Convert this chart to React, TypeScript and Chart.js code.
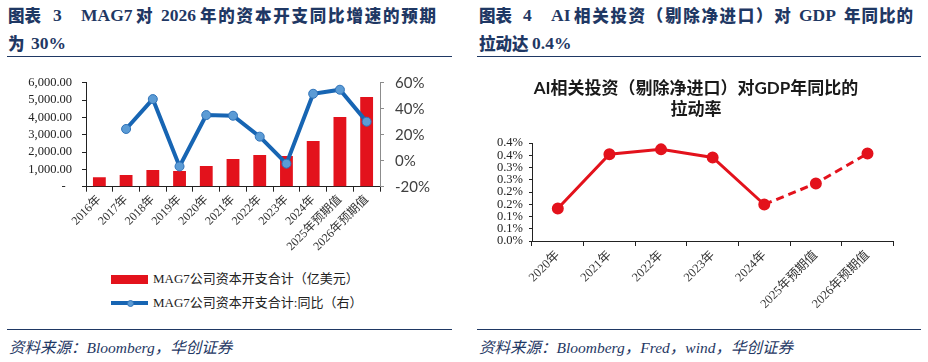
import React, { useEffect, useRef } from 'react';
import { Chart, registerables } from 'chart.js';

Chart.register(...registerables);

// ---------- Data: chart 3 (MAG7 capex) ----------
const capexYears = ['2016年', '2017年', '2018年', '2019年', '2020年', '2021年', '2022年', '2023年', '2024年', '2025年预期值', '2026年预期值'];
const capexValues = [542, 675, 963, 904, 1192, 1596, 1827, 1769, 2635, 4019, 5173];
const capexYoY = [null, 24.4, 47.4, -4.4, 35.1, 34.6, 18.5, -2.3, 51.5, 54.6, 30.0];
const capexLeftTicks = ['-  ', '1,000.00', '2,000.00', '3,000.00', '4,000.00', '5,000.00', '6,000.00'];
const capexRightTicks = ['-20%', '0%', '20%', '40%', '60%'];
const capexBarLabel = 'MAG7公司资本开支合计（亿美元）';
const capexLineLabel = 'MAG7公司资本开支合计:同比（右）';

// ---------- Data: chart 4 (AI investment contribution) ----------
const aiYears = ['2020年', '2021年', '2022年', '2023年', '2024年', '2025年预期值', '2026年预期值'];
const aiContribution = [0.133, 0.354, 0.374, 0.341, 0.149, 0.235, 0.357];
const aiTicks = ['0.0%', '0.1%', '0.1%', '0.2%', '0.2%', '0.3%', '0.3%', '0.4%', '0.4%'];
const aiTitle = ['AI相关投资（剔除净进口）对GDP年同比的', '拉动率'];

const NAVY = '#1F3864';
const RED = '#E3121C';
const BLUE = '#1765B3';
const SERIF = '"Liberation Serif", "Times New Roman", "Noto Sans CJK SC", serif';
const SANS = 'Lato, "Noto Sans CJK SC", sans-serif';

function CapexChart() {
  const ref = useRef<HTMLCanvasElement | null>(null);
  useEffect(() => {
    if (!ref.current) return;
    const chart = new Chart(ref.current, {
      data: {
        labels: capexYears,
        datasets: [
          {
            type: 'line',
            label: capexLineLabel,
            data: capexYoY as any,
            yAxisID: 'yR',
            borderColor: BLUE,
            borderWidth: 4,
            pointRadius: 4.5,
            pointBackgroundColor: '#5B9BD5',
            pointBorderColor: '#2F72B8',
            pointBorderWidth: 1,
            tension: 0,
            order: 0,
          } as any,
          {
            type: 'bar',
            label: capexBarLabel,
            data: capexValues,
            yAxisID: 'yL',
            backgroundColor: RED,
            barPercentage: 0.48,
            categoryPercentage: 1,
            order: 1,
          } as any,
        ],
      },
      options: {
        animation: false,
        responsive: false,
        maintainAspectRatio: false,
        layout: { padding: { top: 20.7, left: 0, right: 0, bottom: 0 } },
        plugins: { legend: { display: false }, tooltip: { enabled: false }, title: { display: false } },
        scales: {
          x: {
            offset: true,
            grid: { display: true, offset: true, drawOnChartArea: false, drawTicks: true, tickLength: 5, color: '#222' },
            border: { display: true, color: '#222', width: 1 },
            ticks: { autoSkip: false, minRotation: 45, maxRotation: 45, padding: 1, color: '#333', font: { family: SERIF, size: 12 } },
            afterFit: (s: any) => { s.height = 75.3; },
          },
          yL: {
            position: 'left',
            min: 0,
            max: 6000,
            grid: { display: true, drawOnChartArea: false, drawTicks: true, tickLength: 4, color: '#222' },
            border: { display: true, color: '#222', width: 1 },
            ticks: { autoSkip: false, stepSize: 1000, padding: 10, color: '#222', font: { family: SERIF, size: 12.5 }, callback: (_v: any, i: number) => capexLeftTicks[i] },
            afterFit: (s: any) => { s.width = 86; },
          },
          yR: {
            position: 'right',
            min: -20,
            max: 60,
            grid: { display: true, drawOnChartArea: false, drawTicks: true, tickLength: 4, color: '#8C8C8C' },
            border: { display: true, color: '#8C8C8C', width: 1 },
            ticks: { autoSkip: false, stepSize: 20, padding: 11, color: '#404040', font: { family: SANS, size: 15 }, callback: (_v: any, i: number) => capexRightTicks[i] },
            afterFit: (s: any) => { s.width = 84; },
          },
        },
      } as any,
    });
    return () => chart.destroy();
  }, []);
  return <canvas ref={ref} width={464} height={200} style={{ position: 'absolute', left: 0, top: 62, width: 464, height: 200 }} />;
}

function AiChart() {
  const ref = useRef<HTMLCanvasElement | null>(null);
  useEffect(() => {
    if (!ref.current) return;
    const chart = new Chart(ref.current, {
      type: 'line',
      data: {
        labels: aiYears,
        datasets: [
          {
            label: 'AI',
            data: aiContribution,
            borderColor: RED,
            backgroundColor: RED,
            borderWidth: 3,
            pointRadius: 4.5,
            pointBackgroundColor: RED,
            pointBorderColor: RED,
            tension: 0,
            segment: { borderDash: (c: any) => (c.p0DataIndex >= 4 ? [8, 5] : undefined) },
          } as any,
        ],
      },
      options: {
        animation: false,
        responsive: false,
        maintainAspectRatio: false,
        layout: { padding: 0 },
        plugins: {
          legend: { display: false },
          tooltip: { enabled: false },
          title: {
            display: true,
            text: aiTitle,
            color: '#1A1A1A',
            font: { family: SANS, size: 17, weight: 'bold', lineHeight: 1.25 },
            padding: { top: 15.5, bottom: 23 },
          },
        },
        scales: {
          x: {
            offset: true,
            grid: { display: true, offset: true, drawOnChartArea: false, drawTicks: true, tickLength: 5, color: '#222' },
            border: { display: true, color: '#222', width: 1 },
            ticks: { autoSkip: false, minRotation: 45, maxRotation: 45, padding: 2, color: '#333', font: { family: SERIF, size: 12.5 } },
            afterFit: (s: any) => { s.height = 74; },
          },
          y: {
            position: 'left',
            min: 0,
            max: 0.4,
            grid: { display: true, drawOnChartArea: false, drawTicks: true, tickLength: 3, color: '#222' },
            border: { display: true, color: '#222', width: 1 },
            ticks: { autoSkip: false, stepSize: 0.05, padding: 6, color: '#222', font: { family: SERIF, size: 12.5 }, callback: (_v: any, i: number) => aiTicks[i] },
            afterFit: (s: any) => { s.width = 68; },
          },
          spacer: {
            position: 'right',
            display: true,
            grid: { display: false, drawTicks: false },
            border: { display: false },
            ticks: { display: false },
            afterFit: (s: any) => { s.width = 34.7; },
          },
        },
      } as any,
    });
    return () => chart.destroy();
  }, []);
  return <canvas ref={ref} width={464} height={253} style={{ position: 'absolute', left: 464, top: 62, width: 464, height: 253 }} />;
}

type Seg = { x: number; y: number; t: string; latin?: boolean; ls?: number };

const headSegs: Seg[] = [
  { x: 8, y: 15, t: '图表' },
  { x: 53, y: 15, t: '3', latin: true },
  { x: 81, y: 15, t: 'MAG7', latin: true },
  { x: 136, y: 15, t: '对' },
  { x: 161, y: 15, t: '2026', latin: true },
  { x: 200, y: 15, t: '年的资本开支同比增速的预期', ls: 1.8 },
  { x: 8, y: 43, t: '为' },
  { x: 31, y: 43, t: '30%', latin: true },
  { x: 479, y: 15, t: '图表' },
  { x: 523, y: 15, t: '4', latin: true },
  { x: 551, y: 15, t: 'AI', latin: true },
  { x: 574, y: 15, t: '相关投资（剔除净进口）对', ls: 1.7 },
  { x: 799, y: 15, t: 'GDP', latin: true },
  { x: 844, y: 15, t: '年同比的', ls: 1.0 },
  { x: 479, y: 43, t: '拉动达' },
  { x: 532, y: 43, t: '0.4%', latin: true },
];

const footStyle: React.CSSProperties = {
  position: 'absolute',
  top: 337,
  fontFamily: SERIF,
  fontStyle: 'italic',
  fontSize: 15.5,
  lineHeight: '22px',
  color: NAVY,
  whiteSpace: 'pre',
};

function rule(left: number, top: number, width: number): React.CSSProperties {
  return { position: 'absolute', left, top, width, height: 1.5, background: NAVY };
}

export default function App() {
  useEffect(() => {
    document.body.style.margin = '0';
  }, []);
  return (
    <div style={{ position: 'absolute', left: 0, top: 0, width: 928, height: 362, background: '#fff', overflow: 'hidden' }}>
      {headSegs.map((s, i) => (
        <div
          key={i}
          style={{
            position: 'absolute',
            left: s.x,
            top: s.y - 11,
            lineHeight: '22px',
            fontFamily: s.latin ? '"Liberation Serif", "Times New Roman", serif' : '"Noto Sans CJK SC", sans-serif',
            fontWeight: s.latin ? 'bold' : 900,
            fontSize: s.latin ? 17.5 : 16.5,
            letterSpacing: s.ls ? s.ls : 0,
            color: NAVY,
            whiteSpace: 'pre',
          }}
        >
          {s.t}
        </div>
      ))}
      <div style={rule(7, 55.5, 445)} />
      <div style={rule(477, 55.5, 444)} />

      <CapexChart />
      <AiChart />

      {/* legend for chart 3 */}
      <div style={{ position: 'absolute', left: 111, top: 275, width: 37, height: 8.5, background: RED }} />
      <div style={{ position: 'absolute', left: 153, top: 270, fontFamily: SERIF, fontSize: 13, lineHeight: '18px', color: '#222', whiteSpace: 'pre' }}>{capexBarLabel}</div>
      <div style={{ position: 'absolute', left: 111, top: 301, width: 37, height: 4, background: BLUE }} />
      <div style={{ position: 'absolute', left: 126.5, top: 299.5, width: 7, height: 7, borderRadius: 4, background: '#5B9BD5', boxSizing: 'border-box', border: '1px solid #2F72B8' }} />
      <div style={{ position: 'absolute', left: 153, top: 294, fontFamily: SERIF, fontSize: 13, lineHeight: '18px', color: '#222', whiteSpace: 'pre' }}>{capexLineLabel}</div>

      <div style={rule(7, 328.5, 445)} />
      <div style={rule(477, 328.5, 444)} />
      <div style={{ ...footStyle, left: 9 }}>{'资料来源：Bloomberg，华创证券'}</div>
      <div style={{ ...footStyle, left: 479 }}>{'资料来源：Bloomberg，Fred，wind，华创证券'}</div>
    </div>
  );
}
